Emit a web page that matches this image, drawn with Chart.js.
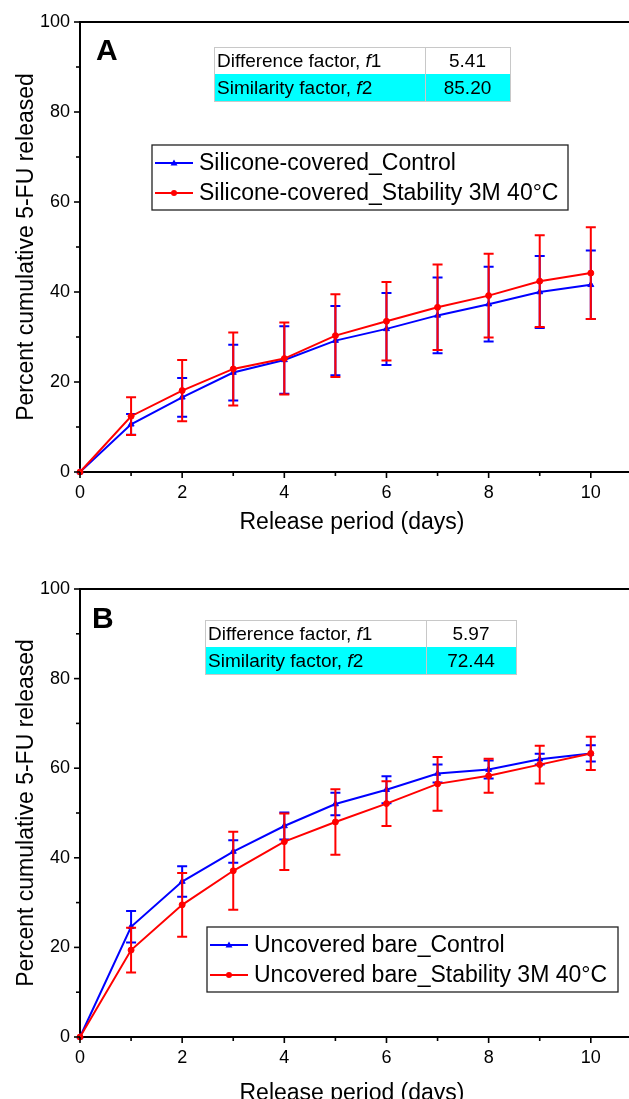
<!DOCTYPE html>
<html><head><meta charset="utf-8">
<script src="https://cdn.jsdelivr.net/npm/chart.js@4.4.1/dist/chart.umd.min.js"></script>
<style>
html,body{margin:0;padding:0;background:#fff;overflow:hidden;width:629px;height:1099px;}
#wa{position:absolute;left:0;top:0;width:629px;height:550px;}
#wb{position:absolute;left:0;top:550px;width:629px;height:570px;}
</style></head><body>
<div id="wa"><canvas id="ca"></canvas></div>
<div id="wb"><canvas id="cb"></canvas></div>
<script>
// ---- data ----
const days = [0,1,2,3,4,5,6,7,8,9,10];
const xTickLabels = [0,2,4,6,8,10];
const yTickLabels = [0,20,40,60,80,100];
// Panel A
const aControl      = [0,10.6,16.6,22.1,24.9,29.2,31.8,34.8,37.3,40.0,41.6];
const aControlErr   = [0,2.3,4.3,6.2,7.5,7.7,8.0,8.4,8.3,8.0,7.6];
const aStability    = [0,12.4,18.1,22.9,25.2,30.3,33.5,36.6,39.2,42.4,44.2];
const aStabilityErr = [0,4.2,6.8,8.1,8.0,9.2,8.7,9.5,9.3,10.2,10.2];
// Panel B
const bControl      = [0,24.6,34.7,41.4,47.1,52.0,55.2,58.8,59.7,62.0,63.3];
const bControlErr   = [0,3.5,3.4,2.5,3.0,2.5,3.0,2.0,2.0,1.2,1.8];
const bStability    = [0,19.4,29.5,37.1,43.6,48.0,52.1,56.5,58.3,60.8,63.3];
const bStabilityErr = [0,5.0,7.1,8.7,6.3,7.3,5.0,6.0,3.8,4.2,3.7];
const aLabels = ['Silicone-covered_Control','Silicone-covered_Stability 3M 40°C'];
const bLabels = ['Uncovered bare_Control','Uncovered bare_Stability 3M 40°C'];
const aTable = [['Difference factor, ','f','1','5.41'],['Similarity factor, ','f','2','85.20']];
const bTable = [['Difference factor, ','f','1','5.97'],['Similarity factor, ','f','2','72.44']];
const yTitle = 'Percent cumulative 5-FU released';
const xTitle = 'Release period (days)';

// ---- rendering ----
const FONT = 'Arial, "Liberation Sans", sans-serif';
Chart.defaults.font.family = FONT;
Chart.defaults.color = '#000';
const BLUE = '#0000ff', RED = '#ff0000';

function makePlugin(cfg){
  return {
    id:'extras'+cfg.letter,
    afterDatasetDraw(chart,args){
      const ds = chart.data.datasets[args.index];
      const err = ds.errors; if(!err) return;
      const ys = chart.scales.y, ctx = chart.ctx;
      ctx.save(); ctx.strokeStyle = ds.borderColor; ctx.lineWidth = 2;
      args.meta.data.forEach((pt,i)=>{
        if(!err[i]) return;
        const v = ds.data[i], x = pt.x;
        const yt = ys.getPixelForValue(v+err[i]), yb = ys.getPixelForValue(v-err[i]);
        ctx.beginPath();
        ctx.moveTo(x,yt); ctx.lineTo(x,yb);
        ctx.moveTo(x-5,yt); ctx.lineTo(x+5,yt);
        ctx.moveTo(x-5,yb); ctx.lineTo(x+5,yb);
        ctx.stroke();
      });
      ctx.restore();
    },
    afterDraw(chart){
      const ctx = chart.ctx, ca = chart.chartArea, xs = chart.scales.x, ys = chart.scales.y;
      ctx.save();
      ctx.strokeStyle = '#000'; ctx.lineWidth = 2;
      // top frame
      ctx.beginPath(); ctx.moveTo(ca.left-1, ca.top); ctx.lineTo(chart.width, ca.top); ctx.stroke();
      // ticks
      ctx.lineWidth = 1.6;
      xs.ticks.forEach(t=>{
        const px = xs.getPixelForValue(t.value);
        const len = (t.value % 2 === 0) ? 6 : 4;
        ctx.beginPath(); ctx.moveTo(px, ca.bottom); ctx.lineTo(px, ca.bottom+len); ctx.stroke();
      });
      ys.ticks.forEach(t=>{
        const py = ys.getPixelForValue(t.value);
        const len = (t.value % 20 === 0) ? 6 : 4;
        ctx.beginPath(); ctx.moveTo(ca.left, py); ctx.lineTo(ca.left-len, py); ctx.stroke();
      });
      // bottom axis extended to edge
      ctx.lineWidth = 2;
      ctx.beginPath(); ctx.moveTo(ca.right, ca.bottom); ctx.lineTo(chart.width, ca.bottom); ctx.stroke();
      // panel letter
      ctx.fillStyle = '#000';
      ctx.font = 'bold 30px '+FONT;
      ctx.textBaseline = 'alphabetic'; ctx.textAlign = 'left';
      ctx.fillText(cfg.letter, cfg.letterX, cfg.letterY);
      // table
      const T = cfg.table;
      cfg.tableRows.forEach((row,i)=>{
        const y0 = T.y + i*T.h;
        ctx.fillStyle = i===1 ? '#00ffff' : '#ffffff';
        ctx.fillRect(T.x, y0, T.w1+T.w2, T.h);
      });
      ctx.strokeStyle = '#c8c8c8'; ctx.lineWidth = 1;
      ctx.strokeRect(T.x+0.5, T.y+0.5, T.w1+T.w2, T.h*2);
      ctx.beginPath(); ctx.moveTo(T.x+T.w1+0.5, T.y); ctx.lineTo(T.x+T.w1+0.5, T.y+T.h*2); ctx.stroke();
      ctx.fillStyle = '#000'; ctx.textBaseline = 'middle';
      cfg.tableRows.forEach((row,i)=>{
        const yc = T.y + i*T.h + T.h/2 + 1;
        let x = T.x + 3;
        ctx.textAlign = 'left';
        ctx.font = T.fs+'px '+FONT; ctx.fillText(row[0], x, yc); x += ctx.measureText(row[0]).width;
        ctx.font = 'italic '+T.fs+'px '+FONT; ctx.fillText(row[1], x, yc); x += ctx.measureText(row[1]).width;
        ctx.font = T.fs+'px '+FONT; ctx.fillText(row[2], x, yc);
        ctx.textAlign = 'center';
        ctx.fillText(row[3], T.x + T.w1 + T.w2/2, yc);
      });
      // legend
      const L = cfg.legend;
      ctx.fillStyle = '#fff'; ctx.fillRect(L.x, L.y, L.w, L.h);
      ctx.strokeStyle = '#222'; ctx.lineWidth = 1.3;
      ctx.strokeRect(L.x, L.y, L.w, L.h);
      [0,1].forEach((di,r)=>{
        const ds = chart.data.datasets[di];
        const yc = L.y + L.rowY[r];
        ctx.strokeStyle = ds.borderColor; ctx.lineWidth = 2;
        ctx.beginPath(); ctx.moveTo(L.x+3, yc); ctx.lineTo(L.x+41, yc); ctx.stroke();
        ctx.fillStyle = ds.borderColor;
        const mx = L.x+22;
        ctx.beginPath();
        if (ds.pointStyle === 'triangle'){ ctx.moveTo(mx, yc-3.5); ctx.lineTo(mx+3.5, yc+2.5); ctx.lineTo(mx-3.5, yc+2.5); ctx.closePath(); }
        else { ctx.arc(mx, yc, 3, 0, Math.PI*2); }
        ctx.fill();
        ctx.fillStyle = '#000'; ctx.font = L.fs+'px '+FONT;
        ctx.textAlign = 'left'; ctx.textBaseline = 'middle';
        ctx.fillText(ds.label, L.x+47, yc+1);
      });
      ctx.restore();
    }
  };
}

function makeChart(id, ctrl, ctrlErr, stab, stabErr, labels, cfg){
  return new Chart(document.getElementById(id), {
    type:'line',
    data:{
      labels: days,
      datasets:[
        {label:labels[0], data:ctrl, errors:ctrlErr, borderColor:BLUE, backgroundColor:BLUE,
         pointStyle:'triangle', pointRadius:3.5, pointBorderWidth:1, borderWidth:2, order:2, clip:false},
        {label:labels[1], data:stab, errors:stabErr, borderColor:RED, backgroundColor:RED,
         pointStyle:'circle', pointRadius:3, pointBorderWidth:1, borderWidth:2, order:1, clip:false}
      ]
    },
    options:{
      responsive:true, maintainAspectRatio:false, animation:false,
      layout:{padding:{top:cfg.top, left:0, right:0, bottom:0}},
      plugins:{legend:{display:false}, tooltip:{enabled:false}},
      scales:{
        x:{type:'linear', min:0, max:10.65,
           ticks:{stepSize:1, includeBounds:false, autoSkip:false, maxRotation:0, padding:cfg.xtp,
                  font:{size:18}, callback:(v)=> xTickLabels.includes(v) ? String(v) : ''},
           grid:{display:true, drawOnChartArea:false, drawTicks:false},
           border:{display:true, color:'#000', width:2},
           title:{display:true, text:xTitle, font:{size:23}, padding:{top:0,bottom:cfg.xtb}},
           afterFit:(s)=>{ s.height = cfg.xh; }},
        y:{type:'linear', min:0, max:100,
           ticks:{stepSize:10, autoSkip:false, padding:10, font:{size:18},
                  callback:(v)=> yTickLabels.includes(v) ? String(v) : ''},
           grid:{display:true, drawOnChartArea:false, drawTicks:false},
           border:{display:true, color:'#000', width:2},
           title:{display:true, text:yTitle, font:{size:23}, padding:{top:13,bottom:0}},
           afterFit:(s)=>{ s.width = 80; }}
      }
    },
    plugins:[makePlugin(cfg)]
  });
}

makeChart('ca', aControl, aControlErr, aStability, aStabilityErr, aLabels, {
  letter:'A', letterX:96, letterY:60, top:22, xh:78, xtp:10, xtb:14,
  tableRows:aTable, table:{x:214, y:47, w1:211, w2:85, h:27, fs:19},
  legend:{x:152, y:145, w:416, h:65, rowY:[18,48], fs:23}
});
makeChart('cb', bControl, bControlErr, bStability, bStabilityErr, bLabels, {
  letter:'B', letterX:92, letterY:78, top:39, xh:83, xtp:10, xtb:13,
  tableRows:bTable, table:{x:205, y:70, w1:221, w2:90, h:27, fs:19},
  legend:{x:207, y:377, w:411, h:65, rowY:[18,48], fs:23}
});
</script>
</body></html>
